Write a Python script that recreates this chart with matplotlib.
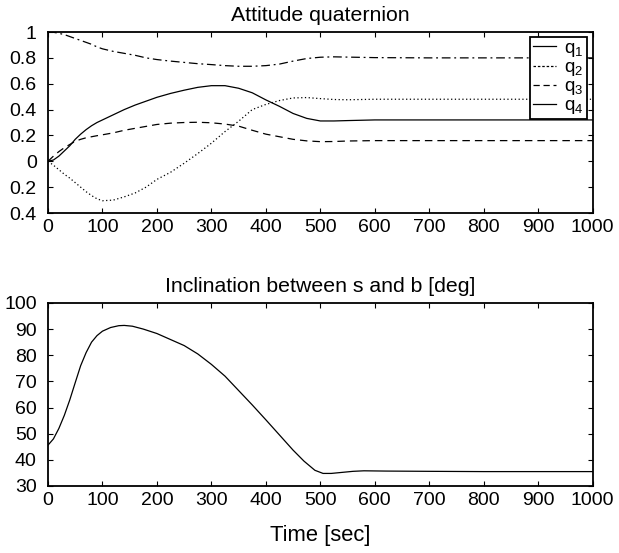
import numpy as np
import matplotlib
matplotlib.use("Agg")
import matplotlib.pyplot as plt
from matplotlib.lines import Line2D

plt.rcParams['font.family'] = ['Liberation Sans', 'DejaVu Sans']
plt.rcParams['mathtext.default'] = 'regular'

# Cuaternión de actitud
t_q = [0, 10, 20, 30, 40, 50, 60, 70, 80, 90, 100, 120, 140, 160, 180, 200, 225, 250,
       275, 300, 325, 350, 375, 400, 425, 450, 475, 500, 525, 550, 600, 700, 800, 900, 1000]
q1 = [0, 0.01, 0.04, 0.08, 0.12, 0.17, 0.21, 0.245, 0.275, 0.30, 0.32, 0.36, 0.40, 0.435,
      0.465, 0.495, 0.525, 0.55, 0.572, 0.585, 0.585, 0.565, 0.53, 0.475, 0.425, 0.37,
      0.332, 0.312, 0.312, 0.315, 0.32, 0.32, 0.32, 0.32, 0.32]
q2 = [0, -0.03, -0.065, -0.10, -0.13, -0.165, -0.20, -0.235, -0.265, -0.29, -0.305, -0.30,
      -0.275, -0.245, -0.20, -0.14, -0.085, -0.015, 0.06, 0.14, 0.23, 0.31, 0.40, 0.44,
      0.47, 0.49, 0.493, 0.485, 0.478, 0.476, 0.48, 0.48, 0.48, 0.48, 0.48]
q3 = [0, 0.04, 0.075, 0.105, 0.13, 0.155, 0.17, 0.182, 0.19, 0.198, 0.205, 0.22, 0.24,
      0.255, 0.27, 0.285, 0.295, 0.30, 0.302, 0.298, 0.288, 0.272, 0.24, 0.21, 0.19, 0.17,
      0.158, 0.152, 0.153, 0.157, 0.16, 0.16, 0.16, 0.16, 0.16]
q4 = [1.0, 0.998, 0.99, 0.98, 0.965, 0.95, 0.935, 0.92, 0.905, 0.885, 0.87, 0.85, 0.835,
      0.82, 0.80, 0.787, 0.775, 0.765, 0.755, 0.748, 0.74, 0.735, 0.735, 0.74, 0.752,
      0.775, 0.795, 0.805, 0.808, 0.806, 0.802, 0.80, 0.80, 0.80, 0.80]

# Inclinación entre s y b
t_inc = [0, 10, 20, 30, 40, 50, 60, 70, 80, 90, 100, 115, 130, 140, 155, 175, 200, 225,
         250, 275, 300, 325, 350, 375, 400, 425, 450, 470, 490, 505, 520, 540, 560, 580,
         620, 700, 800, 1000]
inc = [45.6, 48, 52, 57, 62.9, 69.5, 76, 81, 85, 87.5, 89.2, 90.6, 91.3, 91.4, 91.1, 90,
       88.3, 86, 83.7, 80.5, 76.5, 72, 66.5, 61, 55.3, 49.5, 43.7, 39.5, 36, 34.8, 34.8,
       35.2, 35.6, 35.8, 35.7, 35.6, 35.5, 35.5]

xticks = [0, 100, 200, 300, 400, 500, 600, 700, 800, 900, 1000]
yticks_q = [-0.4, -0.2, 0, 0.2, 0.4, 0.6, 0.8, 1]
yticks_q_labels = ['0.4', '0.2', '0', '0.2', '0.4', '0.6', '0.8', '1']
yticks_inc = [30, 40, 50, 60, 70, 80, 90, 100]

fs_tick = 14
fs_title = 15.3
fig = plt.figure(figsize=(6.19, 5.53), dpi=100)
ax1 = fig.add_axes([0.0775, 0.6148, 0.880, 0.3273])
ax2 = fig.add_axes([0.0775, 0.1212, 0.880, 0.331])

lw = 0.9
ax1.plot(t_q, q1, color='k', lw=lw, ls='-')
ax1.plot(t_q, q2, color='k', lw=lw, ls=(0, (1, 2)))
ax1.plot(t_q, q3, color='k', lw=lw, ls=(0, (6, 4)))
ax1.plot(t_q, q4, color='k', lw=lw, ls=(0, (7, 3, 1.5, 3)))
ax1.set_xlim(0, 1000)
ax1.set_ylim(-0.4, 1)
ax1.set_yticks(yticks_q)
ax1.set_yticklabels(yticks_q_labels)
ax1.set_title('Attitude quaternion', fontsize=fs_title, pad=8)

handles = [Line2D([], [], color='k', lw=lw, ls='-'),
           Line2D([], [], color='k', lw=lw, ls=(0, (2, 1.5))),
           Line2D([], [], color='k', lw=lw, ls=(0, (5, 3))),
           Line2D([], [], color='k', lw=lw, ls='-')]
leg = ax1.legend(handles, ['$q_1$', '$q_2$', '$q_3$', '$q_4$'], loc='upper right',
                 bbox_to_anchor=(1 - 6 / 545, 1 - 5 / 181), borderaxespad=0, fontsize=13.5,
                 handlelength=1.25, handletextpad=0.45, labelspacing=0.0, borderpad=0.15,
                 fancybox=False, framealpha=1)
leg.get_frame().set_edgecolor('k')
leg.get_frame().set_linewidth(1.3)

ax2.plot(t_inc, inc, color='k', lw=lw)
ax2.set_xlim(0, 1000)
ax2.set_ylim(30, 100)
ax2.set_yticks(yticks_inc)
ax2.set_title('Inclination between s and b [deg]', fontsize=fs_title, pad=8)
ax2.set_xlabel('Time [sec]', fontsize=15.8, labelpad=11)

for ax in (ax1, ax2):
    ax.set_xticks(xticks)
    ax.tick_params(direction='in', top=True, right=True, length=3.5, width=0.8,
                   labelsize=fs_tick)
    ax.tick_params(axis='x', pad=4.5)
    ax.tick_params(axis='y', pad=8)
    for s in ax.spines.values():
        s.set_linewidth(1.3)

fig.savefig('out.png', dpi=100)
